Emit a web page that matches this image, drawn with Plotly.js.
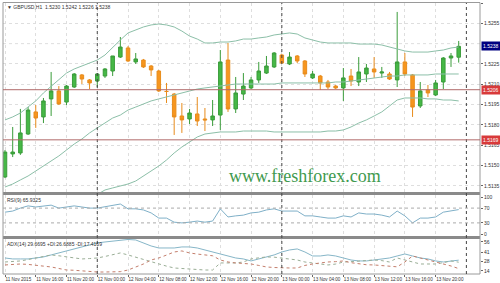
<!DOCTYPE html>
<html><head><meta charset="utf-8">
<script src="https://cdn.plot.ly/plotly-3.0.1.min.js"></script>
<style>html,body{margin:0;padding:0;background:#fff;}#chart{width:500px;height:283px;}</style>
</head><body><div id="chart"></div>
<script>
// ---- data (GBPUSD H1, 11 Nov 12:00 -> 13 Nov 23:00) ----
const openP  = [1.51416,1.51586,1.51593,1.51733,1.51896,1.51859,1.51992,1.52051,1.51969,1.52080,
                1.52169,1.52132,1.52124,1.52161,1.52198,1.52301,1.52368,1.52265,1.52279,1.52235,
                1.52198,1.52047,1.52028,1.51866,1.51844,1.51881,1.51844,1.51837,1.51873,1.52279,
                1.51918,1.52028,1.52073,1.52132,1.52183,1.52228,1.52316,1.52250,1.52309,1.52272,
                1.52147,1.52161,1.52117,1.52087,1.52073,1.52161,1.52117,1.52176,1.52213,1.52183,
                1.52176,1.52132,1.52265,1.52169,1.51940,1.52058,1.52021,1.52117,1.52294,1.52300];
const highP  = [1.51615,1.51785,1.51918,1.51932,1.51947,1.51999,1.52191,1.52087,1.52095,1.52183,
                1.52176,1.52139,1.52183,1.52220,1.52309,1.52449,1.52382,1.52331,1.52287,1.52242,
                1.52206,1.52110,1.52036,1.51962,1.51918,1.52006,1.51925,1.51984,1.52353,1.52405,
                1.52154,1.52183,1.52154,1.52265,1.52309,1.52338,1.52324,1.52338,1.52316,1.52279,
                1.52198,1.52169,1.52132,1.52095,1.52220,1.52213,1.52301,1.52250,1.52301,1.52228,
                1.52191,1.52634,1.52331,1.52176,1.52117,1.52095,1.52132,1.52301,1.52331,1.52420];
const lowP   = [1.51408,1.51563,1.51579,1.51726,1.51778,1.51814,1.51866,1.51947,1.51947,1.52073,
                1.52102,1.52065,1.52080,1.52147,1.52161,1.52294,1.52265,1.52250,1.52220,1.52161,
                1.52043,1.51962,1.51726,1.51741,1.51807,1.51792,1.51755,1.51792,1.51763,1.51896,
                1.51888,1.51984,1.52065,1.52110,1.52176,1.52220,1.52250,1.52242,1.52257,1.52154,
                1.52139,1.52058,1.52065,1.52065,1.51977,1.52087,1.52087,1.52117,1.52147,1.52147,
                1.52132,1.52080,1.52161,1.51859,1.51925,1.52006,1.52013,1.52065,1.52228,1.52260];
const closeP = [1.51600,1.51600,1.51741,1.51910,1.51851,1.51977,1.52051,1.51955,1.52087,1.52176,
                1.52139,1.52110,1.52176,1.52213,1.52309,1.52375,1.52272,1.52287,1.52228,1.52206,
                1.52051,1.52047,1.51859,1.51837,1.51888,1.51829,1.51837,1.51866,1.52265,1.51918,
                1.52036,1.52087,1.52132,1.52198,1.52235,1.52331,1.52257,1.52301,1.52272,1.52176,
                1.52176,1.52110,1.52080,1.52073,1.52147,1.52124,1.52191,1.52220,1.52191,1.52191,
                1.52139,1.52265,1.52176,1.51932,1.52051,1.52036,1.52110,1.52294,1.52309,1.52380];
const bbUpper = [1.51837,1.51859,1.51888,1.51932,1.51977,1.52036,1.52087,1.52139,1.52183,1.52213,
                 1.52235,1.52257,1.52279,1.52316,1.52375,1.52427,1.52479,1.52501,1.52523,1.52538,
                 1.52545,1.52538,1.52523,1.52493,1.52456,1.52434,1.52405,1.52405,1.52412,1.52412,
                 1.52420,1.52434,1.52434,1.52442,1.52449,1.52464,1.52471,1.52479,1.52471,1.52442,
                 1.52427,1.52412,1.52405,1.52405,1.52405,1.52405,1.52397,1.52397,1.52397,1.52390,
                 1.52375,1.52360,1.52346,1.52338,1.52338,1.52338,1.52346,1.52353,1.52368,1.52375];
const bbMiddle = [1.51342,1.51364,1.51394,1.51423,1.51460,1.51497,1.51534,1.51571,1.51615,1.51659,
                  1.51696,1.51741,1.51778,1.51814,1.51851,1.51873,1.51910,1.51932,1.51955,1.51977,
                  1.51992,1.52006,1.52021,1.52036,1.52051,1.52065,1.52073,1.52080,1.52087,1.52095,
                  1.52102,1.52102,1.52102,1.52102,1.52102,1.52102,1.52110,1.52110,1.52110,1.52110,
                  1.52110,1.52110,1.52110,1.52117,1.52117,1.52124,1.52132,1.52139,1.52147,1.52154,
                  1.52161,1.52161,1.52169,1.52169,1.52169,1.52169,1.52176,1.52176,1.52176,1.52176];
const bbLower = [null,null,null,null,null,null,null,null,null,null,
                 null,1.51254,1.51290,1.51320,1.51335,1.51350,1.51364,1.51386,1.51423,1.51460,
                 1.51497,1.51541,1.51593,1.51637,1.51674,1.51711,1.51733,1.51741,1.51748,1.51748,
                 1.51748,1.51755,1.51755,1.51755,1.51755,1.51748,1.51748,1.51748,1.51748,1.51748,
                 1.51748,1.51748,1.51755,1.51755,1.51763,1.51785,1.51814,1.51837,1.51866,1.51896,
                 1.51940,1.51984,1.51999,1.51999,1.51999,1.51992,1.51992,1.51984,1.51984,1.51977];
const rsi9 = [59,62,70,76,73,75,78,70,73,76,
              73,70,70,73,78,81,68,68,65,57,
              43,43,32,30,32,35,32,35,68,46,
              49,51,57,59,65,68,62,62,62,49,
              49,46,43,43,49,46,57,54,54,51,
              46,62,49,30,43,43,46,59,62,65.9325];
const adx14 = [32.8,31.4,31.4,31.4,32.8,34.3,37.2,40.1,43.0,45.9,
               48.8,51.7,54.6,56.0,57.4,58.9,59.6,58.9,54.6,50.2,
               47.3,47.3,47.3,48.8,48.8,47.3,44.4,41.5,38.6,35.7,
               32.8,31.4,28.5,31.4,34.3,37.2,41.5,44.4,45.9,41.5,
               35.7,35.7,37.2,35.7,32.8,29.9,28.5,28.5,29.9,31.4,
               32.8,35.7,38.6,35.7,32.8,31.4,28.5,27.0,28.5,29.6695];
const plusDI = [27,27.5,28.5,30.5,32.8,35,37.2,36,34.3,33,
                31.4,32,32.8,35,37.2,40.1,37.2,34,29.9,27,
                24.1,21,18.3,17.5,16.9,16,15.4,15.4,25.6,25.6,
                25.6,27,31.4,33,34.3,34,32.8,31,29.9,27,
                25.6,24,22.7,24,27,27.5,28.5,29,29.9,29,
                27,32.8,29.9,26,24.1,24.1,24.1,26,28.5,26.6885];
const minusDI = [22.7,23.5,24.1,23.5,22.7,21,19.8,18,15.4,15,
                 14,13,12.5,12.5,12.5,13,15.4,20,24.1,29.9,
                 32.8,37,41.5,43,40.1,38.5,37.2,36,29.9,27,
                 25.6,25,24.1,22,19.8,19,18.3,18.3,18.3,22,
                 24.1,26,27,27.5,28.5,26,24.1,23,22.7,22,
                 21.2,20,27,35.7,32.8,30,27,24,21.2,17.4169];
const tickIdx  = [0,4,8,12,16,20,24,28,32,36,40,44,48,52,56];
const tickText = ['11 Nov 2015','11 Nov 16:00','11 Nov 20:00','12 Nov 00:00','12 Nov 04:00','12 Nov 08:00',
                  '12 Nov 12:00','12 Nov 16:00','12 Nov 20:00','13 Nov 00:00','13 Nov 04:00','13 Nov 08:00',
                  '13 Nov 12:00','13 Nov 16:00','13 Nov 20:00'];
const priceTicks = [1.5135,1.5150,1.5165,1.5180,1.5195,1.5210,1.5225,1.5255,1.5270];
const hiddenGrid = [1.5240];
const rsiTicks = [0,30,70,100];
const adxTicks = [14,28,41,56];
const daySeparators = [12,36,60];
const hLines = [1.5206,1.5169];
const lastPrice = 1.5238;

// ---- layout helpers ----
const H = 283, W = 500;
const py = p => 1 - p / H;
const px = p => p / W;
const idx = openP.map((_, i) => i);
const FONT = 'Liberation Sans, Arial, sans-serif';
const tf = {family: FONT, size: 5, color: '#333'};

const traces = [
  {type:'candlestick', x: idx, open: openP, high: highP, low: lowP, close: closeP,
   xaxis:'x', yaxis:'y', whiskerwidth: 0, hoverinfo:'skip',
   increasing:{line:{color:'#3a9c3a', width:1}, fillcolor:'#46b846'},
   decreasing:{line:{color:'#e88c1c', width:1}, fillcolor:'#f7961e'}},
  {type:'scatter', mode:'lines', x: idx, y: bbUpper, line:{color:'#8cbfa8', width:1}, xaxis:'x', yaxis:'y'},
  {type:'scatter', mode:'lines', x: idx, y: bbMiddle, line:{color:'#8cbfa8', width:1}, xaxis:'x', yaxis:'y'},
  {type:'scatter', mode:'lines', x: idx, y: bbLower, line:{color:'#8cbfa8', width:1}, xaxis:'x', yaxis:'y'},
  {type:'scatter', mode:'lines', x: idx, y: rsi9, line:{color:'#7fb0c8', width:1}, xaxis:'x', yaxis:'y2'},
  {type:'scatter', mode:'lines', x: idx, y: adx14, line:{color:'#86b6c8', width:1}, xaxis:'x', yaxis:'y3'},
  {type:'scatter', mode:'lines', x: idx, y: plusDI, line:{color:'#9aae96', width:1, dash:'dot'}, xaxis:'x', yaxis:'y3'},
  {type:'scatter', mode:'lines', x: idx, y: minusDI, line:{color:'#c47e6c', width:1, dash:'dot'}, xaxis:'x', yaxis:'y3'}
];

const yCommon = {side:'right', anchor:'x', ticks:'outside', ticklen:2, tickcolor:'#666',
  tickfont: tf, showgrid:true, gridcolor:'#dedede', griddash:'dot', zeroline:false, showline:false,
  fixedrange:true};

const shapes = [];
shapes.push({type:'rect', xref:'paper', yref:'paper', x0:px(3), x1:px(480), y0:py(195), y1:py(192), fillcolor:'#8a8a8a', line:{width:0}});
shapes.push({type:'rect', xref:'paper', yref:'paper', x0:px(3), x1:px(480), y0:py(239), y1:py(236), fillcolor:'#8a8a8a', line:{width:0}});
shapes.push({type:'rect', xref:'paper', yref:'paper', x0:px(3), x1:px(480), y0:py(274), y1:py(2.5), line:{color:'#9a9a9a', width:1}});
hiddenGrid.forEach(v => shapes.push({type:'line', xref:'paper', yref:'y', x0:px(3), x1:px(480), y0:v, y1:v, line:{color:'#dedede', width:1, dash:'dot'}, layer:'below'}));
daySeparators.forEach(d => shapes.push({type:'line', xref:'x', yref:'paper', x0:d, x1:d, y0:py(274), y1:py(3), line:{color:'#444', width:1, dash:'dot'}}));
hLines.forEach(v => shapes.push({type:'line', xref:'paper', yref:'y', x0:px(3), x1:px(480), y0:v, y1:v, line:{color:'#b06a6a', width:1}}));
[30,70].forEach(v => shapes.push({type:'line', xref:'paper', yref:'y2', x0:px(3), x1:px(480), y0:v, y1:v, line:{color:'#aaaaaa', width:1, dash:'dot'}}));

const annotations = [
  {xref:'paper', yref:'paper', x:px(5), y:py(6.5), xanchor:'left', yanchor:'middle', showarrow:false,
   text:'▼ GBPUSD,H1  1.5230 1.5242 1.5226 1.5238', font:tf},
  {xref:'paper', yref:'paper', x:px(5), y:py(199.5), xanchor:'left', yanchor:'middle', showarrow:false,
   text:'RSI(9) 65.9325', font:tf},
  {xref:'paper', yref:'paper', x:px(5), y:py(244), xanchor:'left', yanchor:'middle', showarrow:false,
   text:'ADX(14) 29.6695 +DI:26.6885 -DI:17.4169', font:tf},
  {xref:'paper', yref:'paper', x:px(305), y:py(176), xanchor:'center', yanchor:'middle', showarrow:false,
   text:'www.freshforex.com', font:{family:'Liberation Serif, DejaVu Serif, serif', size:18, color:'#3f9a4e'}},
  {xref:'paper', yref:'y', x:px(481), y:lastPrice, xanchor:'left', yanchor:'middle', showarrow:false,
   text:lastPrice.toFixed(4), bgcolor:'#000080', borderpad:1, font:{family:FONT, size:5, color:'#fff'}},
];
hLines.forEach(v => annotations.push({xref:'paper', yref:'y', x:px(481), y:v, xanchor:'left', yanchor:'middle', showarrow:false,
   text:v.toFixed(4), bgcolor:'#d83a3a', borderpad:1, font:{family:FONT, size:5, color:'#fff'}}));

const layout = {
  width: W, height: H, margin:{l:0, r:0, t:0, b:0},
  paper_bgcolor:'#ffffff', plot_bgcolor:'#ffffff', showlegend:false, hovermode:false,
  xaxis:{domain:[px(3), px(480)], range:[-0.26, 61.77], anchor:'y3', tickvals: tickIdx, ticktext: tickText,
         ticklabelposition:'outside right', tickangle:0, ticks:'outside', ticklen:2, tickcolor:'#666',
         tickfont:{family: FONT, size: 4.6, color:'#333'},
         showgrid:true, gridcolor:'#dedede', griddash:'dot', zeroline:false, showline:false,
         rangeslider:{visible:false}, fixedrange:true},
  yaxis: Object.assign({}, yCommon, {domain:[py(192), py(3)], range:[1.51305, 1.5270], tickvals: priceTicks, tickformat:'.4f'}),
  yaxis2: Object.assign({}, yCommon, {domain:[py(236), py(195)], range:[-5.4, 105.4], tickvals: rsiTicks, showgrid:false}),
  yaxis3: Object.assign({}, yCommon, {domain:[py(274), py(239)], range:[9.6, 60.3], tickvals: adxTicks, showgrid:false}),
  shapes: shapes, annotations: annotations, boxgap: 0.35
};

Plotly.newPlot('chart', traces, layout, {staticPlot:true, displayModeBar:false});
</script>
</body></html>
